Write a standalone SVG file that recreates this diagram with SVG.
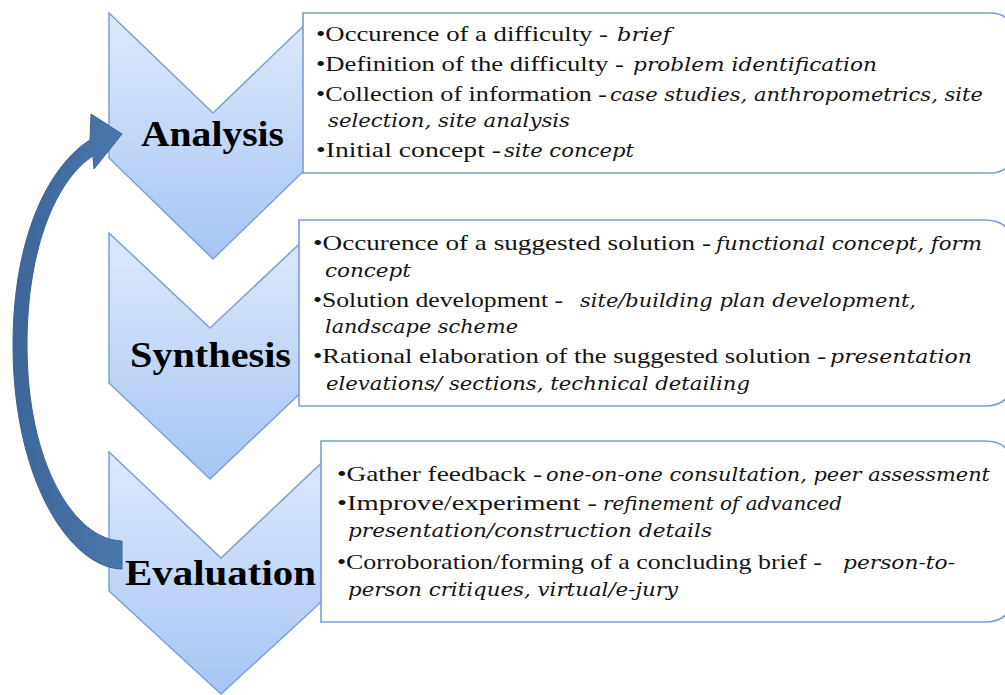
<svg xmlns="http://www.w3.org/2000/svg" width="1005" height="695" viewBox="0 0 1005 695">
  <defs>
    <linearGradient id="chevFill" x1="0" y1="0" x2="0" y2="1">
      <stop offset="0" stop-color="#dee9fb"/>
      <stop offset="1" stop-color="#a7c5f4"/>
    </linearGradient>
    <linearGradient id="arrowFill" x1="0" y1="0" x2="1" y2="0">
      <stop offset="0" stop-color="#3d6699"/>
      <stop offset="1" stop-color="#4a77ad"/>
    </linearGradient>
  </defs>
  <style>
    .chev { fill: url(#chevFill); stroke: #7c9fd5; stroke-width: 1.5; stroke-linejoin: miter; }
    .box { fill: #ffffff; stroke: #7a9dd2; stroke-width: 1.6; }
    .title { font-family: "Liberation Serif", "Times New Roman", serif; font-weight: bold; font-size: 35px; fill: #000; }
    .up { font-family: "Liberation Serif", "Times New Roman", serif; font-size: 22px; fill: #141414; }
    .it { font-family: "DejaVu Serif", "Liberation Serif", serif; font-style: italic; font-size: 19px; fill: #141414; }
    .arrow { fill: url(#arrowFill); stroke: #3a6194; stroke-width: 1; }
  </style>

  <rect width="1005" height="695" fill="#ffffff"/>

  <!-- stage chevrons -->
  <g id="analysis">
    <path class="chev" d="M109,13 L213,113 L317,13 L317,158 L213,259 L109,158 Z"/>
  </g>
  <g id="synthesis">
    <path class="chev" d="M109,233 L210,328 L311,233 L311,383 L210,479 L109,383 Z"/>
  </g>
  <g id="evaluation">
    <path class="chev" d="M109,452 L221,558 L333,452 L333,591 L221,694 L109,591 Z"/>
  </g>

  <!-- detail panels -->
  <g id="analysis-details">
    <path class="box" d="M303,13 H990 Q1012,13 1012,35 V151 Q1012,173 990,173 H303 Z"/>
    <text class="up" x="316" y="41" textLength="292" lengthAdjust="spacingAndGlyphs">•Occurence of a difficulty -</text>
    <text class="it" x="617" y="41" textLength="54" lengthAdjust="spacingAndGlyphs">brief</text>
    <text class="up" x="316" y="71" textLength="308" lengthAdjust="spacingAndGlyphs">•Definition of the difficulty -</text>
    <text class="it" x="633" y="71" textLength="244" lengthAdjust="spacingAndGlyphs">problem identification</text>
    <text class="up" x="316" y="101" textLength="291" lengthAdjust="spacingAndGlyphs">•Collection of information -</text>
    <text class="it" x="610" y="101" textLength="373" lengthAdjust="spacingAndGlyphs">case studies, anthropometrics, site</text>
    <text class="it" x="328" y="127" textLength="242" lengthAdjust="spacingAndGlyphs">selection, site analysis</text>
    <text class="up" x="316" y="157" textLength="185" lengthAdjust="spacingAndGlyphs">•Initial concept -</text>
    <text class="it" x="504" y="157" textLength="130" lengthAdjust="spacingAndGlyphs">site concept</text>
  </g>

  <g id="synthesis-details">
    <path class="box" d="M299,220 H985 Q1012,220 1012,247 V379 Q1012,406 985,406 H299 Z"/>
    <text class="up" x="313" y="250" textLength="398" lengthAdjust="spacingAndGlyphs">•Occurence of a suggested solution -</text>
    <text class="it" x="716" y="250" textLength="266" lengthAdjust="spacingAndGlyphs">functional concept, form</text>
    <text class="it" x="325" y="277" textLength="86" lengthAdjust="spacingAndGlyphs">concept</text>
    <text class="up" x="313" y="307" textLength="250" lengthAdjust="spacingAndGlyphs">•Solution development -</text>
    <text class="it" x="580" y="307" textLength="336" lengthAdjust="spacingAndGlyphs">site/building plan development,</text>
    <text class="it" x="325" y="333" textLength="193" lengthAdjust="spacingAndGlyphs">landscape scheme</text>
    <text class="up" x="313" y="363" textLength="513" lengthAdjust="spacingAndGlyphs">•Rational elaboration of the suggested solution -</text>
    <text class="it" x="830" y="363" textLength="142" lengthAdjust="spacingAndGlyphs">presentation</text>
    <text class="it" x="326" y="390" textLength="424" lengthAdjust="spacingAndGlyphs">elevations/ sections, technical detailing</text>
  </g>

  <g id="evaluation-details">
    <path class="box" d="M321,441 H985 Q1012,441 1012,468 V595 Q1012,622 985,622 H321 Z"/>
    <text class="up" x="337" y="481" textLength="205" lengthAdjust="spacingAndGlyphs">•Gather feedback -</text>
    <text class="it" x="546" y="481" textLength="444" lengthAdjust="spacingAndGlyphs">one-on-one consultation, peer assessment</text>
    <text class="up" x="337" y="510" textLength="260" lengthAdjust="spacingAndGlyphs">•Improve/experiment -</text>
    <text class="it" x="603" y="510" textLength="239" lengthAdjust="spacingAndGlyphs">refinement of advanced</text>
    <text class="it" x="348" y="537" textLength="364" lengthAdjust="spacingAndGlyphs">presentation/construction details</text>
    <text class="up" x="337" y="569" textLength="485" lengthAdjust="spacingAndGlyphs">•Corroboration/forming of a concluding brief -</text>
    <text class="it" x="843" y="569" textLength="112" lengthAdjust="spacingAndGlyphs">person-to-</text>
    <text class="it" x="348" y="596" textLength="330" lengthAdjust="spacingAndGlyphs">person critiques, virtual/e-jury</text>
  </g>

  <!-- feedback loop from evaluation back to analysis -->
  <g id="connectors">
    <path class="arrow" d="M122,569 C70,568 13,480 13,345 C13,235 50,165 90,140 L91,114 L122,134 L94,169 L93,156 C58,178 27,245 27,345 C27,465 75,540 122,541 Z"/>
  </g>

  <!-- stage titles -->
  <g id="titles">
    <text class="title" x="141" y="146" textLength="143" lengthAdjust="spacingAndGlyphs">Analysis</text>
    <text class="title" x="130" y="367" textLength="161" lengthAdjust="spacingAndGlyphs">Synthesis</text>
    <text class="title" x="125" y="585" textLength="191" lengthAdjust="spacingAndGlyphs">Evaluation</text>
  </g>
</svg>
